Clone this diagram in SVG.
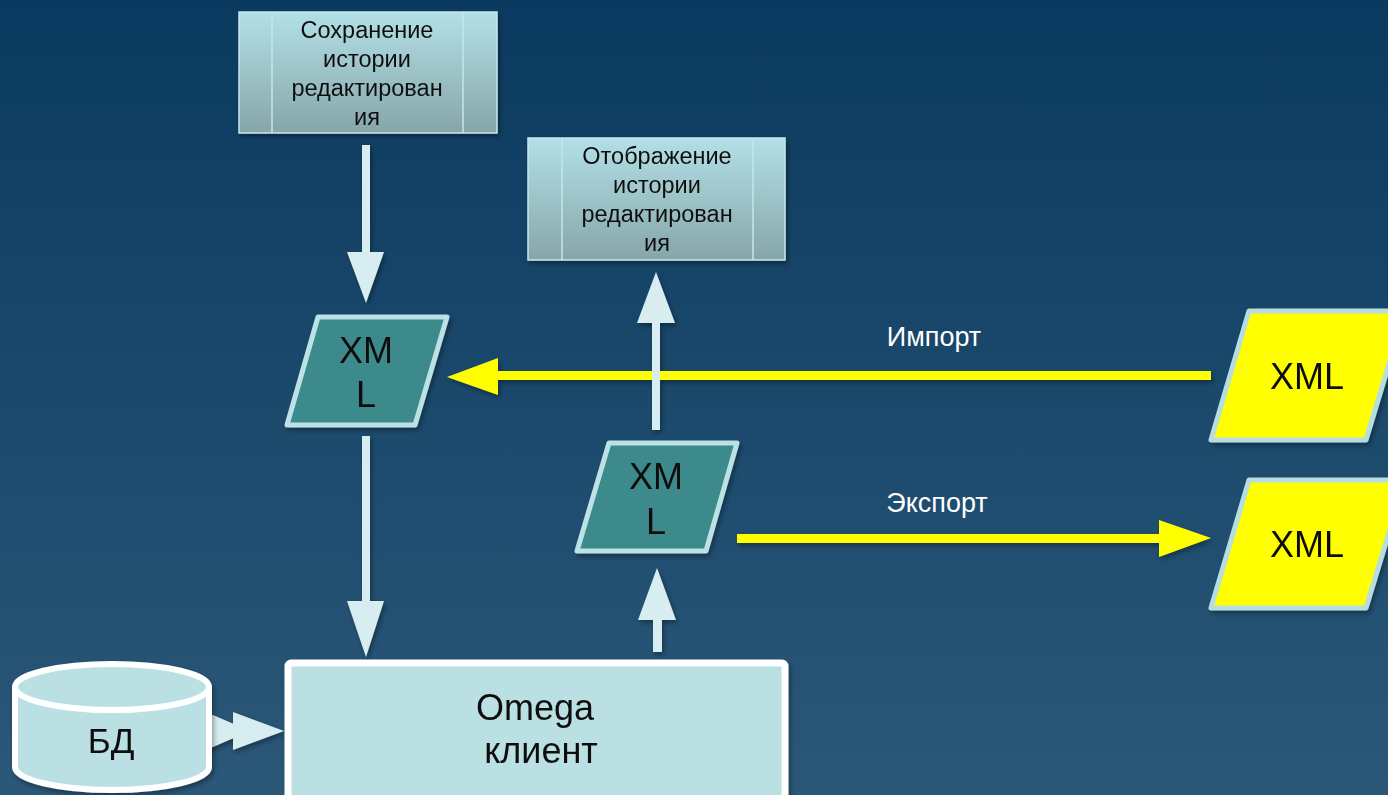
<svg xmlns="http://www.w3.org/2000/svg" width="1388" height="795" viewBox="0 0 1388 795">
<defs>
<linearGradient id="bg" x1="0" y1="0" x2="0" y2="1">
<stop offset="0" stop-color="#0b3a60"/>
<stop offset="1" stop-color="#2b5878"/>
</linearGradient>
<linearGradient id="proc" x1="0" y1="0" x2="0" y2="1">
<stop offset="0" stop-color="#b2e0e6"/>
<stop offset="1" stop-color="#86a6a9"/>
</linearGradient>
<filter id="sh" x="-10%" y="-10%" width="130%" height="130%">
<feDropShadow dx="2" dy="3" stdDeviation="2.5" flood-color="#000" flood-opacity="0.35"/>
</filter>
<style>
.t{font-family:"Liberation Sans",Arial,sans-serif;fill:#111;text-anchor:middle}
.s24{font-size:23.5px}
.s36{font-size:36px}
.lbl{font-family:"Liberation Sans",Arial,sans-serif;fill:#fff;font-size:27px;text-anchor:middle}
.proc{fill:url(#proc);stroke:#c6e6ea;stroke-width:1.5}
.inner{stroke:#c6e6ea;stroke-width:1.5}
.xmlg{fill:#3e8a8c;stroke:#bde2e6;stroke-width:5;stroke-linejoin:round}
.xmly{fill:#ffff00;stroke:#b5dde2;stroke-width:5;stroke-linejoin:round}
.light{fill:#d8edf0}
.yel{fill:#ffff00}
</style>
</defs>
<rect x="0" y="0" width="1388" height="795" fill="url(#bg)"/>

<g id="connectors" filter="url(#sh)">
<!-- Сохранение -> XML left -->
<path class="light" d="M362,145 H370 V252 H384 L366,303 L347,252 H362 Z"/>
<!-- XML left -> Omega -->
<path class="light" d="M362,436 H370 V601 H384 L366,657 L347,601 H362 Z"/>
<!-- Import yellow -->
<path class="yel" d="M1211,371 V380 H498 V395 L447,377 L498,358 V371 Z"/>
<!-- Export yellow -->
<path class="yel" d="M737,534 H1159 V520 L1211,538 L1159,557 V543 H737 Z"/>
<!-- XML mid -> Отображение -->
<path class="light" d="M652,430 V323 H637 L656,272 L675,323 H660 V430 Z"/>
<!-- Omega -> XML mid -->
<path class="light" d="M653,652 V620 H638 L657,568 L676,620 H662 V652 Z"/>
<!-- БД -> Omega -->
<rect x="202" y="722" width="8" height="26" fill="#c9dfe2"/>
<path class="light" d="M206,712 L250,731 L206,750 Z"/>
<path class="light" d="M233,712 L284,731 L233,750 Z"/>
</g>

<g id="save-history" filter="url(#sh)">
<rect class="proc" x="239" y="12" width="258" height="121"/>
<line class="inner" x1="272" y1="12" x2="272" y2="133"/>
<line class="inner" x1="463" y1="12" x2="463" y2="133"/>
<text class="t s24" x="367" y="38">Сохранение</text>
<text class="t s24" x="367" y="67">истории</text>
<text class="t s24" x="367" y="96">редактирован</text>
<text class="t s24" x="367" y="125">ия</text>
</g>

<g id="show-history" filter="url(#sh)">
<rect class="proc" x="528" y="138" width="257" height="122"/>
<line class="inner" x1="562" y1="138" x2="562" y2="260"/>
<line class="inner" x1="753" y1="138" x2="753" y2="260"/>
<text class="t s24" x="657" y="164">Отображение</text>
<text class="t s24" x="657" y="193">истории</text>
<text class="t s24" x="657" y="222">редактирован</text>
<text class="t s24" x="657" y="251">ия</text>
</g>

<g id="xml-left" filter="url(#sh)">
<polygon class="xmlg" points="318,317 447,317 415,425 287,425"/>
<text class="t s36" x="366" y="363">XM</text>
<text class="t s36" x="366" y="407">L</text>
</g>

<g id="xml-mid" filter="url(#sh)">
<polygon class="xmlg" points="609,443 737,443 706,551 577,551"/>
<text class="t s36" x="656" y="489">XM</text>
<text class="t s36" x="656" y="534">L</text>
</g>

<g id="xml-import" filter="url(#sh)">
<polygon class="xmly" points="1249,311 1405,311 1366,440 1211,440"/>
<text class="t s36" x="1307" y="389">XML</text>
</g>

<g id="xml-export" filter="url(#sh)">
<polygon class="xmly" points="1249,480 1405,480 1366,608 1211,608"/>
<text class="t s36" x="1307" y="557">XML</text>
</g>

<g id="labels">
<text class="lbl" x="934" y="346">Импорт</text>
<text class="lbl" x="937" y="512">Экспорт</text>
</g>

<g id="omega" filter="url(#sh)">
<rect x="288" y="663" width="497" height="140" rx="3" fill="#bbe0e3" stroke="#ffffff" stroke-width="7"/>
<text class="t s36" x="535" y="720">Omega</text>
<text class="t s36" x="541" y="763">клиент</text>
</g>

<g id="db" filter="url(#sh)">
<path d="M15,687 V767 A97,23 0 0 0 209,767 V687" fill="#bbe0e3" stroke="#ffffff" stroke-width="6"/>
<ellipse cx="112" cy="687" rx="97" ry="23" fill="#bbe0e3" stroke="#ffffff" stroke-width="6"/>
<text class="t" style="font-size:35px" x="111" y="753">БД</text>
</g>
</svg>
